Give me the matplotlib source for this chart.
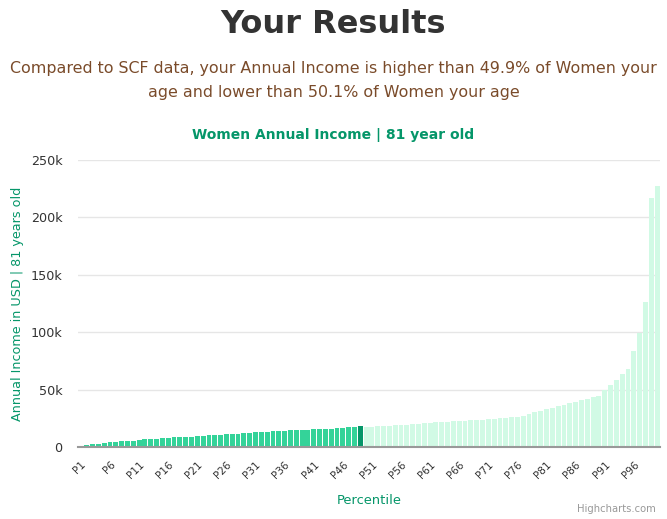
import numpy as np
import matplotlib
matplotlib.use('Agg')
import matplotlib.pyplot as plt


# percentile income values (USD)
percentiles = [f'P{i}' for i in range(1, 101)]
income = [
   900, 1600, 2500, 2500, 3400, 4000, 4300, 5100, 5500, 5500,
   6400, 6600, 7000, 7200, 7500, 7800, 8400, 8400, 9000, 9000,
   9800, 9800, 10100, 10400, 10700, 11000, 11500, 11500, 12200, 12500,
   12800, 12800, 13300, 13600, 13600, 14200, 14500, 14500, 14800, 14800,
   15400, 15400, 16000, 16000, 16200, 16200, 17100, 17100, 18000, 17700,
   17700, 18600, 18600, 18600, 19400, 19400, 19400, 20300, 20300, 21200,
   21200, 21700, 21700, 21700, 22600, 22600, 22600, 23500, 23500, 23800,
   24400, 24400, 25200, 25200, 25800, 25900, 27200, 28700, 30200, 31600,
   33100, 34300, 36000, 36900, 38300, 39200, 40900, 41800, 43500, 44400,
   49600, 53700, 58400, 63600, 67900, 83600, 99000, 126000, 216600, 227300,
]
user_index = 48  # highlighted bar (P49)

y_ticks = [0, 50000, 100000, 150000, 200000, 250000]
y_tick_labels = ['0', '50k', '100k', '150k', '200k', '250k']

title = 'Your Results'
subtitle_1 = 'Compared to SCF data, your Annual Income is higher than 49.9% of Women your'
subtitle_2 = 'age and lower than 50.1% of Women your age'
chart_title = 'Women Annual Income | 81 year old'

GREEN = '#059669'
BELOW = '#34d399'
ABOVE = '#d1fae5'

fig = plt.figure(figsize=(6.67, 5.19), dpi=100)
ax = fig.add_axes([78 / 667, 1 - 447 / 519, 582 / 667, 287 / 519])

x = np.arange(len(income))
colors = [BELOW if i < user_index else ABOVE for i in range(len(income))]
colors[user_index] = GREEN
ax.bar(x, income, width=0.84, color=colors, zorder=2)

ax.set_xlim(-0.5, len(income) - 0.5)
ax.set_ylim(0, 250000)
ax.set_yticks(y_ticks)
ax.set_yticklabels(y_tick_labels, fontsize=9.2, color='#333333')
ax.tick_params(axis='y', length=0, pad=11)
ax.grid(axis='y', color='#e6e6e6', linewidth=1, zorder=0)

ax.set_xticks(x[::5])
ax.set_xticklabels(percentiles[::5], rotation=45, ha='right',
                   rotation_mode='anchor', fontsize=7.5, color='#333333')
ax.tick_params(axis='x', length=0, pad=9)

for side in ['top', 'right', 'left']:
   ax.spines[side].set_visible(False)
ax.spines['bottom'].set_color('#999999')
ax.spines['bottom'].set_linewidth(1.5)
ax.spines['bottom'].set_zorder(3)

ax.set_ylabel('Annual Income in USD | 81 years old', fontsize=9.2, color=GREEN)
ax.yaxis.set_label_coords(-0.092, 0.5)
ax.set_xlabel('Percentile', fontsize=9.4, color=GREEN)
ax.xaxis.set_label_coords(0.5, -(494 - 447) / 287)

fig.text(0.5, 1 - 33.3 / 519, title, ha='center', va='baseline',
         fontsize=23, fontweight='bold', color='#333333')
fig.text(0.5, 1 - 72.7 / 519, subtitle_1, ha='center', va='baseline',
         fontsize=11.45, color='#7a4b2a')
fig.text(0.5, 1 - 96.7 / 519, subtitle_2, ha='center', va='baseline',
         fontsize=11.45, color='#7a4b2a')
fig.text(0.5, 1 - 139.5 / 519, chart_title, ha='center', va='baseline',
         fontsize=10, fontweight='bold', color=GREEN)
fig.text(656 / 667, 1 - 509 / 519, 'Highcharts.com', ha='right', va='center',
         fontsize=7.2, color='#999999')

fig.savefig('out.png', dpi=100)
